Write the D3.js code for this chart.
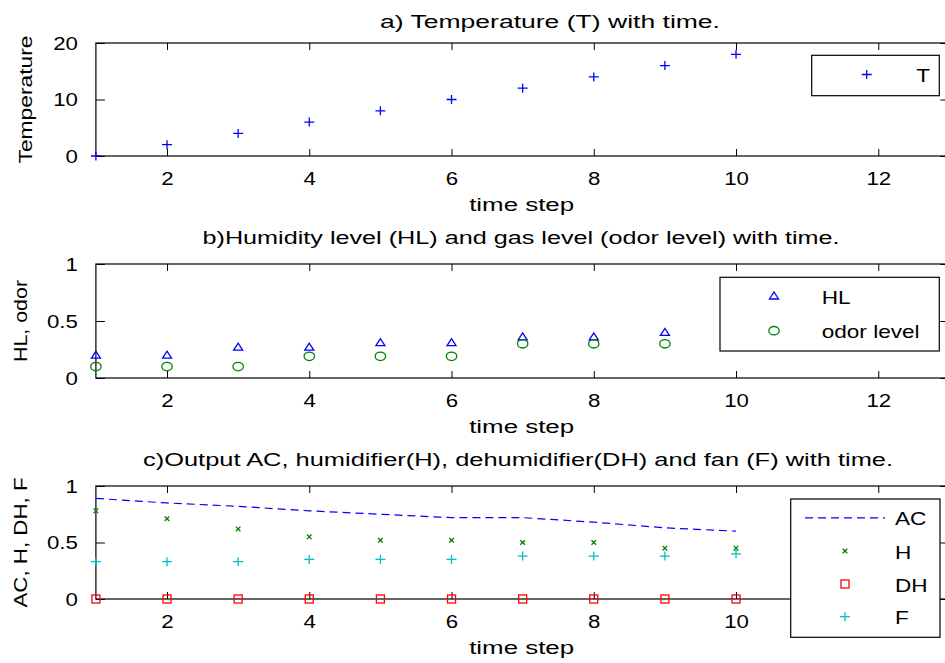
<!DOCTYPE html>
<html><head><meta charset="utf-8">
<script src="https://cdn.jsdelivr.net/npm/d3@7"></script>
<style>
body{margin:0;background:#fff;}
svg{display:block;font-family:"Liberation Sans",Arial,sans-serif;}
text{fill:#000;}
</style></head>
<body>
<script>
// ---- data ----
const steps = [1,2,3,4,5,6,7,8,9,10];
const tempT = [0,2,4,6,8,10,12,14,16,18];
const stepsB = [1,2,3,4,5,6,7,8,9];
const humidityHL = [0.2,0.2,0.27,0.27,0.31,0.31,0.36,0.36,0.4];
const odorLevel = [0.1,0.1,0.1,0.19,0.19,0.19,0.3,0.3,0.3];
const outAC = [0.89,0.85,0.82,0.78,0.75,0.72,0.72,0.68,0.63,0.6];
const outH = [0.78,0.71,0.62,0.55,0.52,0.52,0.5,0.5,0.45,0.45];
const outDH = [0,0,0,0,0,0,0,0,0,0];
const outF = [0.33,0.33,0.33,0.35,0.35,0.35,0.38,0.38,0.38,0.4];
const xTicks = [2,4,6,8,10,12];
const yTicksA = [0,10,20];
const yTicksB = [0,0.5,1];
const titles = ["a) Temperature (T) with time.",
  "b)Humidity level (HL) and gas level (odor level) with time.",
  "c)Output AC, humidifier(H), dehumidifier(DH) and fan (F) with time."];
const yLabels = ["Temperature","HL, odor","AC, H, DH, F"];
const xLabel = "time step";

const W = 945, H = 663, FS = 17.5, STRETCH = 1.27;
const svg = d3.select("body").append("svg").attr("width",W).attr("height",H);

const x = d3.scaleLinear().domain([1,13]).range([95.9,949.4]);
const panels = [
  {top:43,bottom:156,dom:[0,20],ticks:yTicksA,title:titles[0],tW:340,tX:550,yl:yLabels[0],ylX:32,ylW:128},
  {top:264,bottom:378,dom:[0,1],ticks:yTicksB,title:titles[1],tW:637,tX:521,yl:yLabels[1],ylX:27,ylW:82},
  {top:486,bottom:599,dom:[0,1],ticks:yTicksB,title:titles[2],tW:750,tX:518,yl:yLabels[2],ylX:27,ylW:130}
];

function stretch(sel,k){
  sel.each(function(){
    const w=this.getComputedTextLength();
    d3.select(this).attr("textLength",w*k).attr("lengthAdjust","spacingAndGlyphs");
  });
}

panels.forEach(p=>{
  p.y = d3.scaleLinear().domain(p.dom).range([p.bottom,p.top]);
  const g = svg.append("g");
  g.append("rect").attr("x",x(1)).attr("y",p.top).attr("width",x(13)-x(1)).attr("height",p.bottom-p.top)
    .attr("fill","none").attr("stroke","#000").attr("stroke-width",1.2);
  const ab = g.append("g").attr("transform",`translate(0,${p.bottom})`)
    .call(d3.axisBottom(x).tickValues(xTicks).tickSizeInner(-7).tickSizeOuter(0).tickPadding(17).tickFormat(d3.format("d")));
  const at = g.append("g").attr("transform",`translate(0,${p.top})`)
    .call(d3.axisTop(x).tickValues(xTicks).tickSizeInner(-7).tickSizeOuter(0).tickFormat(""));
  const al = g.append("g").attr("transform",`translate(${x(1)},0)`)
    .call(d3.axisLeft(p.y).tickValues(p.ticks).tickSizeInner(-9).tickSizeOuter(0).tickPadding(18).tickFormat(d=>String(d)));
  const ar = g.append("g").attr("transform",`translate(${x(13)},0)`)
    .call(d3.axisRight(p.y).tickValues(p.ticks).tickSizeInner(-9).tickSizeOuter(0).tickFormat(""));
  [ab,at,al,ar].forEach(a=>{
    a.select(".domain").remove();
    a.selectAll("line").attr("stroke","#000");
    a.selectAll("text").attr("font-size",FS).attr("font-family","Liberation Sans, Arial, sans-serif").attr("fill","#000");
  });
  stretch(ab.selectAll("text"),STRETCH);
  stretch(al.selectAll("text"),STRETCH);
  al.selectAll("text").attr("dy","0.36em");
  g.append("text").attr("x",p.tX).attr("y",p.top-(p===panels[0]?15:20)).attr("text-anchor","middle")
    .attr("font-size",FS).attr("textLength",p.tW).attr("lengthAdjust","spacingAndGlyphs").text(p.title);
  g.append("text").attr("x",(x(1)+x(13))/2-1).attr("y",p.bottom+55).attr("text-anchor","middle")
    .attr("font-size",FS).attr("textLength",105).attr("lengthAdjust","spacingAndGlyphs").text(xLabel);
  g.append("text").attr("transform",`translate(${p.ylX},${(p.top+p.bottom)/2}) rotate(-90)`).attr("text-anchor","middle")
    .attr("font-size",FS).attr("textLength",p.ylW).attr("lengthAdjust","spacingAndGlyphs").text(p.yl);
});

// marker helpers
const SW = 1.3;
function plus(g,cx,cy,c,w=5,h=4.5){
  g.append("path").attr("d",`M${cx-w},${cy}H${cx+w}M${cx},${cy-h}V${cy+h}`).attr("stroke",c).attr("stroke-width",SW).attr("fill","none");
}
function cross(g,cx,cy,c,s=2.3){
  g.append("path").attr("d",`M${cx-s},${cy-s}L${cx+s},${cy+s}M${cx-s},${cy+s}L${cx+s},${cy-s}`).attr("stroke",c).attr("stroke-width",SW).attr("fill","none");
}
function tri(g,cx,cy,c){
  g.append("path").attr("d",`M${cx-4.5},${cy+3}L${cx+4.5},${cy+3}L${cx},${cy-4}Z`).attr("stroke",c).attr("stroke-width",SW).attr("fill","none");
}
function circ(g,cx,cy,c){
  g.append("ellipse").attr("cx",cx).attr("cy",cy).attr("rx",5.2).attr("ry",4.2).attr("stroke",c).attr("stroke-width",SW).attr("fill","none");
}
function sq(g,cx,cy,c){
  g.append("rect").attr("x",cx-4).attr("y",cy-4).attr("width",8).attr("height",8).attr("stroke",c).attr("stroke-width",SW).attr("fill","none");
}
const BLUE="#0000ff", GREEN="#008000", RED="#ff0000", CYAN="#00bfbf";

// panel a
const pa=panels[0], ga=svg.append("g");
steps.forEach((s,i)=>plus(ga,x(s),pa.y(tempT[i]),BLUE));
// panel b
const pb=panels[1], gb=svg.append("g");
stepsB.forEach((s,i)=>{tri(gb,x(s),pb.y(humidityHL[i]),BLUE); circ(gb,x(s),pb.y(odorLevel[i]),GREEN);});
// panel c
const pc=panels[2], gc=svg.append("g");
gc.append("path").datum(steps).attr("d",d3.line().x(s=>x(s)).y((s,i)=>pc.y(outAC[i])))
  .attr("fill","none").attr("stroke",BLUE).attr("stroke-width",1.2).attr("stroke-dasharray","8,5");
steps.forEach((s,i)=>{
  cross(gc,x(s),pc.y(outH[i]),GREEN);
  sq(gc,x(s),pc.y(outDH[i]),RED);
  plus(gc,x(s),pc.y(outF[i]),CYAN);
});

// legends
function legBox(x0,y0,x1,y1){
  svg.append("rect").attr("x",x0).attr("y",y0).attr("width",x1-x0).attr("height",y1-y0)
    .attr("fill","#fff").attr("stroke","#000").attr("stroke-width",1.2);
}
function legText(tx,ty,t,anchor="start"){
  const el=svg.append("text").attr("x",tx).attr("y",ty).attr("dy","0.36em").attr("font-size",FS+1).attr("text-anchor",anchor).text(t);
  stretch(el,1.22);
}
legBox(811.7,55.3,939.3,95.7);
legBox(720,277.3,939.3,351);
legBox(790.7,499,940,637.3);
const lg=svg.append("g");
// a
plus(lg,866.7,74.5,BLUE);
legText(930,75.5,"T","end");
// b
tri(lg,774,296,BLUE); legText(821.7,297,"HL");
circ(lg,774,330.7,GREEN); legText(821.7,331.5,"odor level");
// c
lg.append("line").attr("x1",805).attr("x2",885).attr("y1",517.8).attr("y2",517.8)
  .attr("stroke",BLUE).attr("stroke-width",1.3).attr("stroke-dasharray","8,5");
legText(895,518.5,"AC");
cross(lg,845,551,GREEN); legText(895,552,"H");
sq(lg,845,584,RED); legText(895,585,"DH");
plus(lg,845,616.7,CYAN); legText(895,617.5,"F");
</script>
</body></html>
